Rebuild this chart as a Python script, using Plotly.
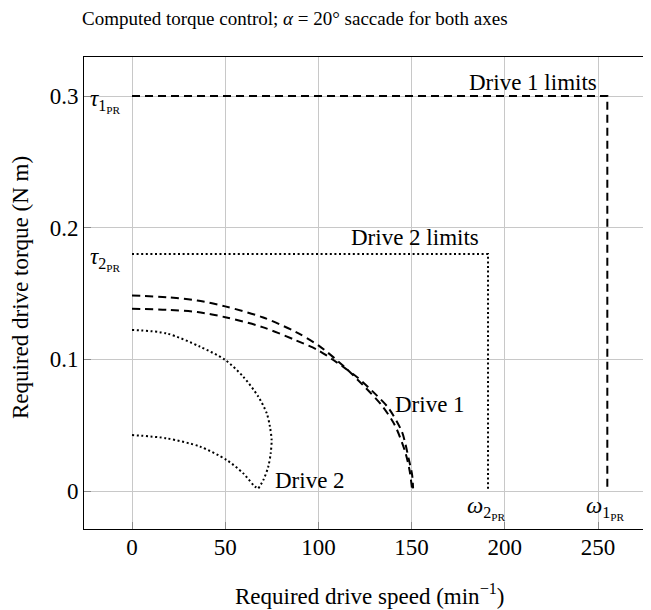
import plotly.graph_objects as go

# ---- data ----
drive1_limit_w = [0, 255, 255]
drive1_limit_t = [0.3, 0.3, 0.0]
drive2_limit_w = [0, 191, 191]
drive2_limit_t = [0.18, 0.18, 0.0]

drive1a_w = [0, 20, 35, 50, 70, 88, 100, 113, 124, 134, 141, 146.5, 149, 150.2]
drive1a_t = [0.1485, 0.1470, 0.1447, 0.1402, 0.1320, 0.1207, 0.1106, 0.0955, 0.0803, 0.0650, 0.0500, 0.0300, 0.0150, 0.002]
drive1b_w = [0, 20, 35, 50, 70, 88, 100, 108, 121, 131, 137.6, 144.8, 148.4, 150.3, 150.8]
drive1b_t = [0.1385, 0.1375, 0.1359, 0.1320, 0.1245, 0.1144, 0.1068, 0.0995, 0.0862, 0.0730, 0.0630, 0.0450, 0.0248, 0.0120, 0.002]

drive2a_w = [0, 18.6, 36.5, 50, 59.7, 67.8, 72.3, 74, 74.9, 74.4, 73.1, 70.5, 67.8]
drive2a_t = [0.1223, 0.1197, 0.1096, 0.0995, 0.0868, 0.0716, 0.0590, 0.0488, 0.0387, 0.0286, 0.0185, 0.0084, 0.002]
drive2b_w = [0, 18.6, 36.5, 50.8, 59.7, 66, 67.8]
drive2b_t = [0.0425, 0.0400, 0.0337, 0.0235, 0.0134, 0.0033, 0.002]

x_ticks = [0, 50, 100, 150, 200, 250]
y_ticks = [0, 0.1, 0.2, 0.3]
y_tick_labels = ["0", "0.1", "0.2", "0.3"]

FONT = "Liberation Serif"
FS = 23
FS_TITLE = 19

fig = go.Figure()
dash_style = dict(color="black", width=2, dash="8px,5px")
dot_style = dict(color="black", width=2, dash="2px,2.6px")

fig.add_trace(go.Scatter(x=drive1_limit_w, y=drive1_limit_t, mode="lines", line=dash_style))
fig.add_trace(go.Scatter(x=drive2_limit_w, y=drive2_limit_t, mode="lines", line=dot_style))
fig.add_trace(go.Scatter(x=drive1a_w, y=drive1a_t, mode="lines", line=dict(**dash_style, shape="spline", smoothing=0.8)))
fig.add_trace(go.Scatter(x=drive1b_w, y=drive1b_t, mode="lines", line=dict(**dash_style, shape="spline", smoothing=0.8)))
fig.add_trace(go.Scatter(x=drive2a_w, y=drive2a_t, mode="lines", line=dict(**dot_style, shape="spline", smoothing=0.8)))
fig.add_trace(go.Scatter(x=drive2b_w, y=drive2b_t, mode="lines", line=dict(**dot_style, shape="spline", smoothing=0.8)))

def ann(text, x, y, xanchor="center", yanchor="middle", xref="x", yref="y", size=FS, textangle=0):
    fig.add_annotation(text=text, x=x, y=y, xref=xref, yref=yref, xanchor=xanchor, yanchor=yanchor,
                       showarrow=False, font=dict(family=FONT, size=size, color="black"), textangle=textangle)

ann("Drive 1 limits", 250.3, 0.3099, xanchor="right")
ann("Drive 2 limits", 187.2, 0.1929, xanchor="right")
ann("Drive 1", 140.0, 0.0655, xanchor="left")
ann("Drive 2", 75.6, 0.0076, xanchor="left")
ann("<i>τ</i><sub>1<sub>PR</sub></sub>", -23.5, 0.296, xanchor="left")
ann("<i>τ</i><sub>2<sub>PR</sub></sub>", -23.5, 0.176, xanchor="left")
ann("<i>ω</i><sub>2<sub>PR</sub></sub>", 190, -0.013)
ann("<i>ω</i><sub>1<sub>PR</sub></sub>", 253.8, -0.013)

# titles (paper coords: plot area x 84..651, y 57..529 px in the page)
ann("Computed torque control; <i>α</i> = 20° saccade for both axes", (295 - 84) / 567, (529 - 18) / 472,
    xref="paper", yref="paper", size=FS_TITLE)
ann("Required drive speed (min<sup>−1</sup>)", (369 - 84) / 567, (529 - 594) / 472, xref="paper", yref="paper")
ann("Required drive torque (N m)", (20 - 84) / 567, (529 - 288) / 472, xref="paper", yref="paper", textangle=-90)

axis_common = dict(showgrid=True, gridcolor="#c8c8c8", gridwidth=1, zeroline=False,
                   showline=True, linecolor="black", linewidth=1,
                   ticks="inside", ticklen=7, tickcolor="#8a8a8a", tickwidth=1,
                   tickfont=dict(family=FONT, size=FS, color="black"))

px_per_x = 93.2 / 50
px_per_y = 395 / 0.3
fig.update_xaxes(range=[-48 / px_per_x, 519 / px_per_x], tickvals=x_ticks, mirror=True,
                 ticklabelstandoff=-3, **axis_common)
fig.update_yaxes(range=[-38 / px_per_y, 0.3 + 39 / px_per_y], tickvals=y_ticks, ticktext=y_tick_labels, **axis_common)

# page body has an 8px margin, so the figure is offset by 8px
fig.update_layout(width=643, height=602, margin=dict(l=76, r=0, t=49, b=81),
                  paper_bgcolor="white", plot_bgcolor="white", showlegend=False,
                  font=dict(family=FONT, size=FS, color="black"))

fig.write_html("out.html")
